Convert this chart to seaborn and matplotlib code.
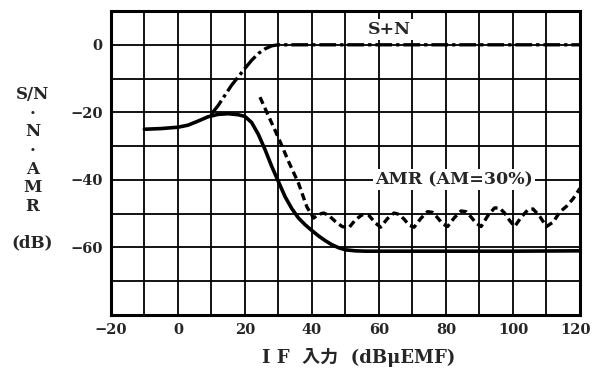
import numpy as np
import pandas as pd
import matplotlib
matplotlib.use("Agg")
import matplotlib.pyplot as plt
import matplotlib.transforms as mtransforms
import seaborn as sns

# Noise level (solid)
noise_x = [-10, -5, 0, 3, 6, 9, 12, 15, 18, 20, 22, 24, 26, 28, 30, 32, 34, 36, 38, 40,
           42, 44, 46, 48, 50, 53, 56, 60, 80, 100, 120]
noise_y = [-25.0, -24.8, -24.4, -23.8, -22.6, -21.3, -20.6, -20.4, -20.7, -21.2, -23.0, -26.5, -31.0, -36.0, -40.5, -45.0, -48.5, -51.3, -53.3, -55.0,
           -56.6, -58.0, -59.2, -60.1, -60.7, -61.0, -61.1, -61.1, -61.1, -61.1, -61.0]

# Signal + noise (dash-dot)
sn_x = [10, 12, 14, 16, 18, 20, 22, 24, 26, 28, 30, 40, 60, 80, 100, 120]
sn_y = [-20.5, -18.0, -15.0, -12.0, -9.5, -7.0, -4.6, -2.6, -1.2, -0.3, 0.0, 0.0, 0.0, 0.0, 0.0, 0.0]

# AM rejection at 30 % modulation (dashed)
amr_x = [24.5, 27, 30, 33, 36, 38.5, 40.5, 42, 43.5, 45, 47, 49, 51,
         53, 55, 57, 59, 60.5, 62.5, 64.5, 66, 67.5, 69, 70.5,
         72.5, 74.5, 76, 77.5, 79, 80.5, 82.5, 84.5, 86, 87.5, 89, 90.5,
         92.5, 94.5, 96, 97.5, 99, 100.5, 102.5, 104.5, 106, 108, 110,
         112, 114, 116, 118, 120]
amr_y = [-15.5, -21.0, -27.5, -34.5, -41.0, -48.0, -51.3, -50.2, -49.8, -50.5, -52.3, -53.8, -54.2,
         -51.8, -50.3, -50.5, -52.8, -54.0, -51.5, -49.8, -50.2, -51.6, -53.4, -54.0,
         -51.4, -49.4, -49.6, -51.2, -53.0, -53.8, -51.2, -49.2, -49.4, -51.0, -52.8, -53.8,
         -50.6, -48.3, -48.3, -49.8, -52.0, -53.8, -51.0, -48.8, -48.6, -50.8, -53.8,
         -52.5, -49.5, -47.8, -45.5, -42.5]

x_ticks = [-20, 0, 20, 40, 60, 80, 100, 120]
y_ticks = [0, -20, -40, -60]

sns.set_style("white")
plt.rcParams["font.family"] = ["DejaVu Serif", "Noto Sans CJK JP"]
plt.rcParams["axes.unicode_minus"] = True

fig = plt.figure(figsize=(5.93, 3.80), dpi=100)
ax = fig.add_axes([0.187, 0.171, 0.791, 0.800])

# grid every 10 units
for gx in range(-10, 120, 10):
    ax.axvline(gx, color="black", lw=1.3, zorder=1)
for gy in range(-70, 10, 10):
    ax.axhline(gy, color="black", lw=1.3, zorder=1)

sns.lineplot(x=noise_x, y=noise_y, ax=ax, color="black", lw=2.6, zorder=3)
sns.lineplot(x=sn_x, y=sn_y, ax=ax, color="black", lw=2.4, zorder=3)
ax.lines[-1].set_linestyle((0, (5, 1.2, 1.0, 1.2)))
sns.lineplot(x=amr_x, y=amr_y, ax=ax, color="black", lw=2.4, zorder=3)
ax.lines[-1].set_linestyle((0, (2.2, 1.3)))

ax.set_xlim(-20, 120)
ax.set_ylim(-80, 10)
ax.set_xticks(x_ticks)
ax.set_yticks(y_ticks)
ax.set_xticklabels([f"{v}".replace("-", "−") for v in x_ticks], fontweight="bold", fontsize=10.5)
ax.set_yticklabels([f"{v}".replace("-", "−") for v in y_ticks], fontweight="bold", fontsize=10.5)
ax.tick_params(length=0, pad=6)
# keep the right-most label inside the figure
last = ax.get_xticklabels()[-1]
last.set_transform(last.get_transform() + mtransforms.ScaledTranslation(-4 / 100, 0, fig.dpi_scale_trans))
for s in ax.spines.values():
    s.set_color("black")
    s.set_linewidth(2.2)

ax.text(63, 4.5, "S+N", ha="center", va="center", fontsize=12.5, fontweight="bold",
        bbox=dict(facecolor="white", edgecolor="none", pad=1.5), zorder=4)
ax.text(82.5, -40, "AMR (AM=30%)", ha="center", va="center", fontsize=12.5, fontweight="bold",
        bbox=dict(facecolor="white", edgecolor="none", pad=1.5), zorder=4)

fig.text(0.055, 0.555, "S/N\n·\nN\n·\nA\nM\nR\n\n(dB)", ha="center", va="center",
         fontsize=12, fontweight="bold", linespacing=1.12)
fig.text(0.605, 0.06, "I F  入力  (dBμEMF)", ha="center", va="center", fontsize=13, fontweight="bold")

fig.savefig("out.png", dpi=100, facecolor="white")
